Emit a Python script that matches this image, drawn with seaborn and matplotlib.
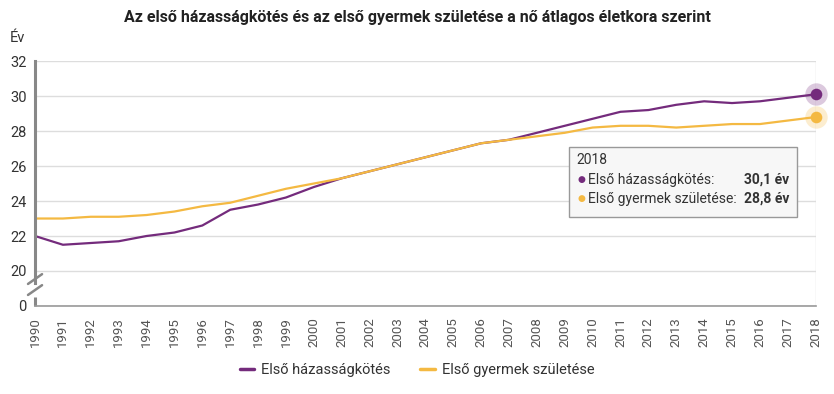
import matplotlib
matplotlib.use("Agg")
import matplotlib.pyplot as plt
import seaborn as sns
import pandas as pd
from matplotlib.patches import Rectangle

years = list(range(1990, 2019))
marriage = [22.0, 21.5, 21.6, 21.7, 22.0, 22.2, 22.6, 23.5, 23.8, 24.2,
            24.8, 25.3, 25.7, 26.1, 26.5, 26.9, 27.3, 27.5, 27.9, 28.3,
            28.7, 29.1, 29.2, 29.5, 29.7, 29.6, 29.7, 29.9, 30.1]
first_child = [23.0, 23.0, 23.1, 23.1, 23.2, 23.4, 23.7, 23.9, 24.3, 24.7,
               25.0, 25.3, 25.7, 26.1, 26.5, 26.9, 27.3, 27.5, 27.7, 27.9,
               28.2, 28.3, 28.3, 28.2, 28.3, 28.4, 28.4, 28.6, 28.8]
series_names = ["Első házasságkötés", "Első gyermek születése"]
y_ticks = [18, 20, 22, 24, 26, 28, 30, 32]
y_tick_labels = ["0", "20", "22", "24", "26", "28", "30", "32"]

purple = "#742b7c"
yellow = "#f4b942"
text_col = "#333333"

df = pd.DataFrame({
    "year": years * 2,
    "value": marriage + first_child,
    "series": [series_names[0]] * len(years) + [series_names[1]] * len(years),
})

sns.set_style("white")
plt.rcParams["font.family"] = ["Roboto", "DejaVu Sans"]

fig = plt.figure(figsize=(8.34, 3.94), dpi=100)
ax = fig.add_axes([0.042, 0.2234, 0.936, 0.6216])

sns.lineplot(data=df, x="year", y="value", hue="series",
             palette=[purple, yellow], linewidth=1.6, ax=ax, legend=False)

# highlighted last points
for vals, col in [(marriage, purple), (first_child, yellow)]:
    ax.scatter([years[-1]], [vals[-1]], s=260, color=col, alpha=0.25,
               linewidths=0, zorder=5, clip_on=False)
    ax.scatter([years[-1]], [vals[-1]], s=70, color=col, linewidths=0,
               zorder=6, clip_on=False)

ax.set_xlim(years[0], years[-1])
ax.set_ylim(18, 32)
ax.set_xticks(years)
ax.set_xticklabels([str(y) for y in years], rotation=90, fontsize=9.5,
                   color="#555555")
ax.set_yticks(y_ticks)
ax.set_yticklabels(y_tick_labels, fontsize=10.5, color=text_col)
ax.set_xlabel("")
ax.set_ylabel("")
ax.grid(axis="y", color="#dddddd", linewidth=1)
ax.axvline(years[-1], color="#dddddd", linewidth=1, zorder=0)
ax.tick_params(axis="x", length=5, color="#999999", direction="out", pad=3)
ax.tick_params(axis="y", length=0, pad=6)

for s in ["top", "right"]:
    ax.spines[s].set_visible(False)
ax.spines["bottom"].set_color("#999999")
ax.spines["bottom"].set_linewidth(1.2)
ax.spines["left"].set_color("#888888")
ax.spines["left"].set_linewidth(2.2)
ax.spines["left"].set_bounds(19.3, 32)
# lower piece of the broken axis and break marks
ax.plot([0, 0], [0, 0.035], transform=ax.transAxes, color="#888888",
        linewidth=2.2, clip_on=False, solid_capstyle="butt")
for dy in [0.0, 0.045]:
    ax.plot([-0.009, 0.009], [0.045 + dy, 0.085 + dy], transform=ax.transAxes,
            color="#888888", linewidth=1.8, clip_on=False)

fig.text(0.012, 0.893, "Év", fontsize=10.5, color=text_col)
fig.text(0.5, 0.955, "Az első házasságkötés és az első gyermek születése a nő átlagos életkora szerint",
         ha="center", va="center", fontsize=11.5, fontweight="bold", color="#222222")

# tooltip
tip = Rectangle((0.6823, 0.449), 0.2734, 0.1777, transform=fig.transFigure,
                facecolor="#f7f7f7", edgecolor="#999999", linewidth=1, zorder=10)
fig.add_artist(tip)
fig.text(0.691, 0.594, str(years[-1]), fontsize=10, color=text_col, va="center", zorder=11)
rows = [(series_names[0] + ":", marriage[-1], purple, 0.544),
        (series_names[1] + ":", first_child[-1], yellow, 0.496)]
for label, val, col, yy in rows:
    fig.text(0.693, yy, "●", fontsize=6.5, color=col, va="center", zorder=11)
    fig.text(0.705, yy, label, fontsize=10, color=text_col, va="center", zorder=11)
    fig.text(0.946, yy, f"{val:.1f}".replace(".", ",") + " év", fontsize=10,
             fontweight="bold", color=text_col, va="center", ha="right", zorder=11)

handles = [plt.Line2D([], [], color=purple, linewidth=2.5),
           plt.Line2D([], [], color=yellow, linewidth=2.5)]
fig.legend(handles, series_names, loc="center", bbox_to_anchor=(0.5, 0.06),
           ncol=2, frameon=False, fontsize=10.5, handlelength=1.0,
           columnspacing=2.0, handletextpad=0.5, labelcolor=text_col)

fig.savefig("out.png", dpi=100)
